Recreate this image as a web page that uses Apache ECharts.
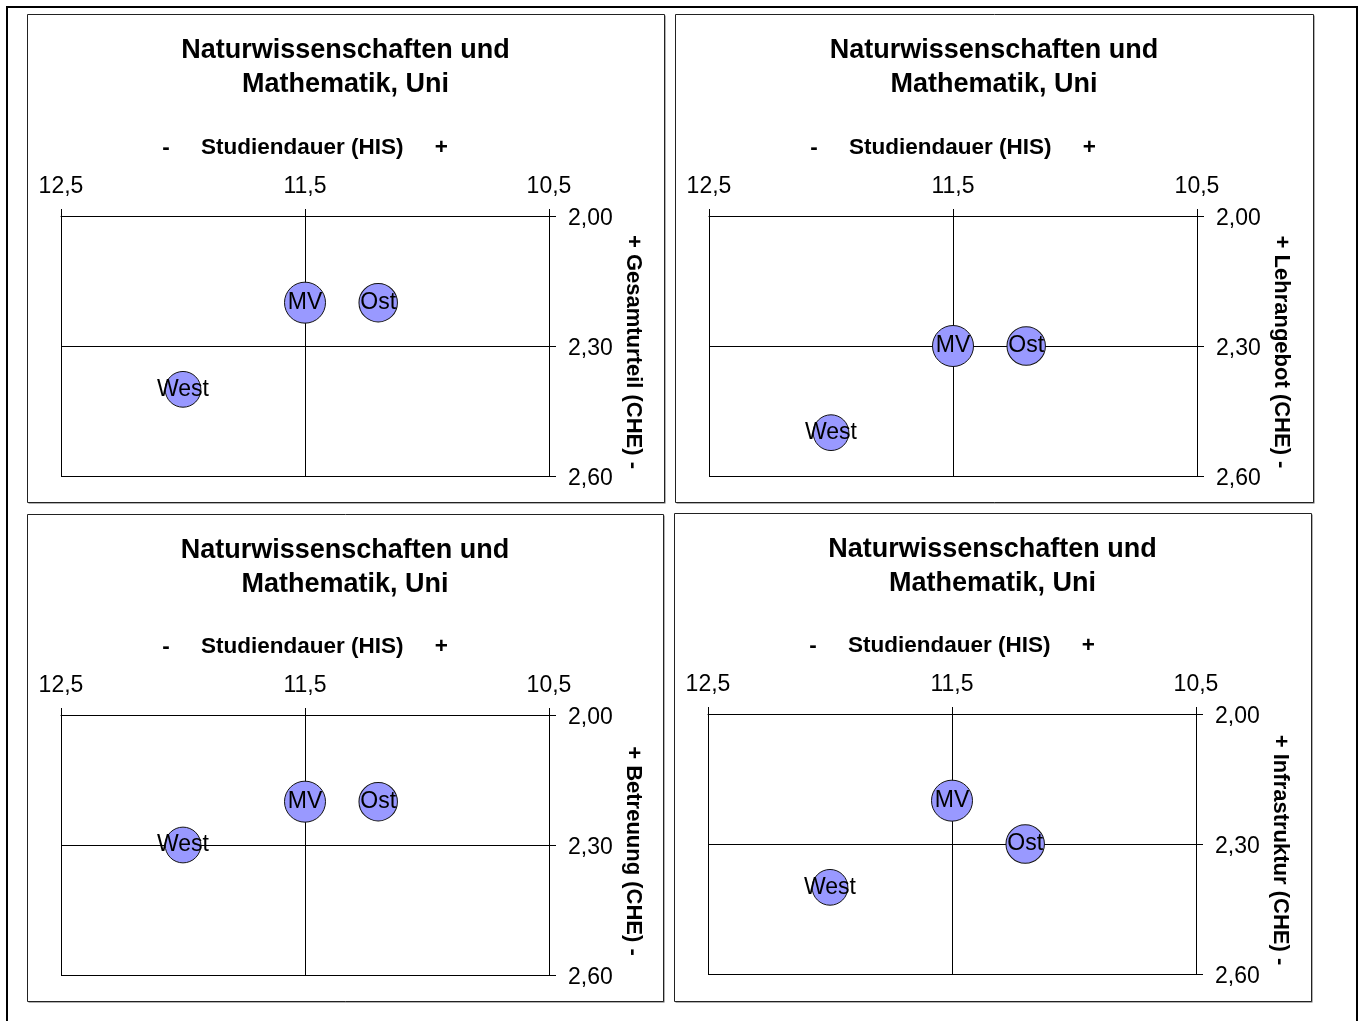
<!DOCTYPE html>
<html>
<head>
<meta charset="utf-8">
<script src="https://cdn.jsdelivr.net/npm/echarts@6/dist/echarts.min.js"></script>
<style>
html,body{margin:0;padding:0;background:#fff;}
#chart{width:1366px;height:1021px;}
</style>
</head>
<body>
<div id="chart"></div>
<script>
// ---- data ----
const regions = ['MV', 'Ost', 'West'];
const studiendauer = [11.5, 11.2, 12.0];          // x values (HIS), same for all panels
const bubbleWeight = [100, 88, 76];               // relative bubble sizes
const gesamturteil = [2.20, 2.20, 2.40];
const lehrangebot  = [2.30, 2.30, 2.50];
const betreuung    = [2.20, 2.20, 2.30];
const infrastruktur = [2.20, 2.30, 2.40];
const panelTitle = 'Naturwissenschaften und\nMathematik, Uni';
const xAxisName = '-     Studiendauer (HIS)     +';
const yAxisNames = ['+ Gesamturteil (CHE) -', '+ Lehrangebot (CHE) -', '+ Betreuung (CHE) -', '+ Infrastruktur (CHE) -'];
const panelValues = [gesamturteil, lehrangebot, betreuung, infrastruktur];
const xMin = 10.5, xMax = 12.5, xStep = 1;
const yMin = 2.0, yMax = 2.6, yStep = 0.3;

// ---- layout ----
const FONT = '"Liberation Sans", Arial, sans-serif';
const panels = [
  {x: 27, y: 14, w: 637, h: 488, gl: 61, gt: 216},
  {x: 675, y: 14, w: 638, h: 488, gl: 709, gt: 216},
  {x: 27, y: 514, w: 636, h: 487, gl: 61, gt: 715},
  {x: 674, y: 513, w: 637, h: 488, gl: 708, gt: 714}
];
const GW = 488, GH = 260;

const chart = echarts.init(document.getElementById('chart'), null, {renderer: 'canvas'});

const graphics = [{
  type: 'rect', shape: {x: 7, y: 7, width: 1350, height: 1030},
  style: {fill: '#fff', stroke: '#000', lineWidth: 2}, z: -10
}];
panels.forEach(p => {
  graphics.push({
    type: 'rect', shape: {x: p.x + 1.5, y: p.y + 1.5, width: p.w, height: p.h},
    style: {fill: '#666', stroke: null}, z: -9
  });
  graphics.push({
    type: 'rect', shape: {x: p.x + 0.5, y: p.y + 0.5, width: p.w, height: p.h},
    style: {fill: '#fff', stroke: '#222', lineWidth: 1}, z: -8
  });
});

const fmtX = v => v.toFixed(1).replace('.', ',');
const fmtY = v => '{v|' + v.toFixed(2).replace('.', ',') + '}';

const option = {
  backgroundColor: '#fff',
  animation: false,
  graphic: graphics,
  title: panels.map(p => ({
    text: panelTitle,
    left: p.x + p.w / 2,
    top: p.y + 20,
    padding: 0,
    textAlign: 'center',
    textStyle: {fontFamily: FONT, fontSize: 27, fontWeight: 'bold', color: '#000', lineHeight: 34}
  })),
  grid: panels.map(p => ({left: p.gl, top: p.gt, width: GW, height: GH, containLabel: false})),
  xAxis: panels.map((p, i) => ({
    type: 'value', gridIndex: i, position: 'top', inverse: true,
    min: xMin, max: xMax, interval: xStep,
    name: xAxisName, nameLocation: 'middle', nameGap: 57,
    nameTextStyle: {fontFamily: FONT, fontSize: 22.5, fontWeight: 'bold', color: '#000', whiteSpace: 'pre'},
    axisLine: {show: true, lineStyle: {color: '#000', width: 1}},
    axisTick: {show: true, length: 7, lineStyle: {color: '#000'}},
    axisLabel: {fontFamily: FONT, fontSize: 23, color: '#000', margin: 18, formatter: fmtX},
    splitLine: {show: true, lineStyle: {color: '#000', width: 1}}
  })),
  yAxis: panels.map((p, i) => ({
    type: 'value', gridIndex: i, position: 'right', inverse: true,
    min: yMin, max: yMax, interval: yStep,
    name: yAxisNames[i], nameLocation: 'middle', nameGap: 73, nameRotate: -90,
    nameTextStyle: {fontFamily: FONT, fontSize: 22, fontWeight: 'bold', color: '#000', padding: [0, 0, 0, 12]},
    axisLine: {show: true, lineStyle: {color: '#000', width: 1}},
    axisTick: {show: true, length: 7, lineStyle: {color: '#000'}},
    axisLabel: {
      fontFamily: FONT, fontSize: 23, color: '#000', margin: 19, formatter: fmtY,
      rich: {v: {fontFamily: FONT, fontSize: 23, color: '#000', padding: [6, 0, 0, 0]}}
    },
    splitLine: {show: true, lineStyle: {color: '#000', width: 1}}
  })),
  series: panels.map((p, i) => ({
    type: 'scatter', xAxisIndex: i, yAxisIndex: i,
    data: regions.map((r, k) => ({name: r, value: [studiendauer[k], panelValues[i][k], bubbleWeight[k]]})),
    symbolSize: d => 41 * Math.sqrt(d[2] / 100),
    itemStyle: {color: '#9999FF', borderColor: '#111', borderWidth: 1, opacity: 1},
    label: {show: true, position: 'inside', formatter: '{b}', fontFamily: FONT, fontSize: 23, color: '#000'},
    emphasis: {disabled: true}
  }))
};
chart.setOption(option);
</script>
</body>
</html>
